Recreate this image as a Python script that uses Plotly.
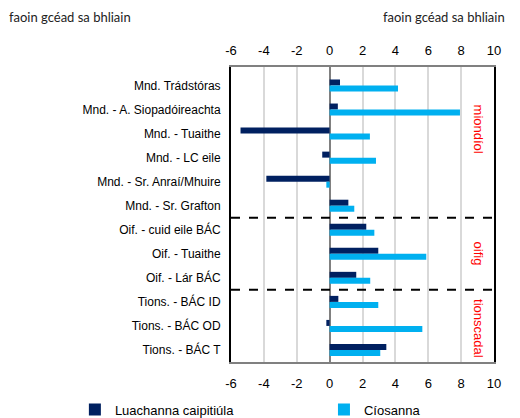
import plotly.graph_objects as go

categories = ["Mnd. Trádstóras", "Mnd. - A. Siopadóireachta", "Mnd. - Tuaithe", "Mnd. - LC eile",
              "Mnd. - Sr. Anraí/Mhuire", "Mnd. - Sr. Grafton", "Oif. - cuid eile BÁC", "Oif. - Tuaithe",
              "Oif. - Lár BÁC", "Tions. - BÁC ID", "Tions. - BÁC OD", "Tions. - BÁC T"]
capital_values = [0.63, 0.5, -5.42, -0.45, -3.85, 1.14, 2.23, 2.96, 1.62, 0.53, -0.2, 3.45]
rents = [4.16, 7.93, 2.45, 2.82, -0.2, 1.5, 2.72, 5.88, 2.47, 2.96, 5.64, 3.08]
series_names = ["Luachanna caipitiúla", "Cíosanna"]
tick_vals = [-6, -4, -2, 0, 2, 4, 6, 8, 10]
tick_text = ["-6", "-4", "-2", "0", "2", "4", "6", "8", "10"]
unit_label = "faoin gcéad sa bhliain"
group_labels = [("miondíol", 1.8), ("oifig", 7.0), ("tionscadal", 10.1)]
group_breaks = [5.5, 8.5]

dark = "#002060"
light = "#00B0F0"
font_main = "Liberation Sans, Arial, sans-serif"

fig = go.Figure()
fig.add_trace(go.Bar(y=categories, x=capital_values, orientation="h", name=series_names[0],
                     marker=dict(color=dark, line=dict(width=0)), legend="legend"))
fig.add_trace(go.Bar(y=categories, x=rents, orientation="h", name=series_names[1],
                     marker=dict(color=light, line=dict(width=0)), legend="legend2"))
# invisible trace to carry the top axis
fig.add_trace(go.Scatter(x=[tick_vals[0], tick_vals[-1]], y=[categories[0], categories[0]], xaxis="x2",
                         mode="markers", marker=dict(opacity=0), showlegend=False, hoverinfo="skip"))

shapes = []
for b in group_breaks:
    shapes.append(dict(type="line", xref="paper", x0=0, x1=1, yref="y", y0=b, y1=b,
                       line=dict(color="black", width=2, dash="dash")))

annotations = [
    dict(text=unit_label, xref="paper", yref="paper", x=-0.851, y=1.17, xanchor="left", yanchor="middle",
         showarrow=False, font=dict(family="Lato, sans-serif", size=13, color="#222")),
    dict(text=unit_label, xref="paper", yref="paper", x=1.05, y=1.17, xanchor="right", yanchor="middle",
         showarrow=False, font=dict(family="Lato, sans-serif", size=13, color="#222")),
]
for txt, pos in group_labels:
    annotations.append(dict(text=txt, xref="paper", x=0.94, yref="y", y=pos, textangle=90,
                            showarrow=False, font=dict(family=font_main, size=13, color="red"),
                            xanchor="center", yanchor="middle"))

legend_common = dict(orientation="h", yref="container", y=0.02, yanchor="middle", xanchor="left",
                     xref="container", font=dict(size=13), bgcolor="rgba(0,0,0,0)")

fig.update_layout(
    width=520, height=418,
    margin=dict(l=231, r=26, t=67, b=56, autoexpand=False),
    paper_bgcolor="white", plot_bgcolor="white",
    barmode="group", bargap=0.5, bargroupgap=0,
    font=dict(family=font_main, size=13, color="black"),
    xaxis=dict(range=[-6, 10], tickvals=tick_vals, ticktext=tick_text, showgrid=True,
               gridcolor="#d9d9d9", gridwidth=2,
               zeroline=True, zerolinecolor="#808080", zerolinewidth=2,
               showline=True, linecolor="#808080", linewidth=2, mirror=True,
               ticks="", ticklabelstandoff=8, tickfont=dict(size=13)),
    xaxis2=dict(range=[-6, 10], tickvals=tick_vals, ticktext=tick_text, overlaying="x", side="top",
                showgrid=False, zeroline=False, showline=False, ticks="", ticklabelstandoff=8,
                tickfont=dict(size=13)),
    yaxis=dict(autorange="reversed", showline=True, linecolor="black", linewidth=2, mirror=True,
               showgrid=False, ticks="", ticklabelstandoff=6, tickfont=dict(size=12)),
    legend=dict(x=0.144, **legend_common),
    legend2=dict(x=0.623, **legend_common),
    shapes=shapes, annotations=annotations,
)

fig.write_html("out.html", config={"displayModeBar": False},
               post_script="document.body.style.margin='0px';")
